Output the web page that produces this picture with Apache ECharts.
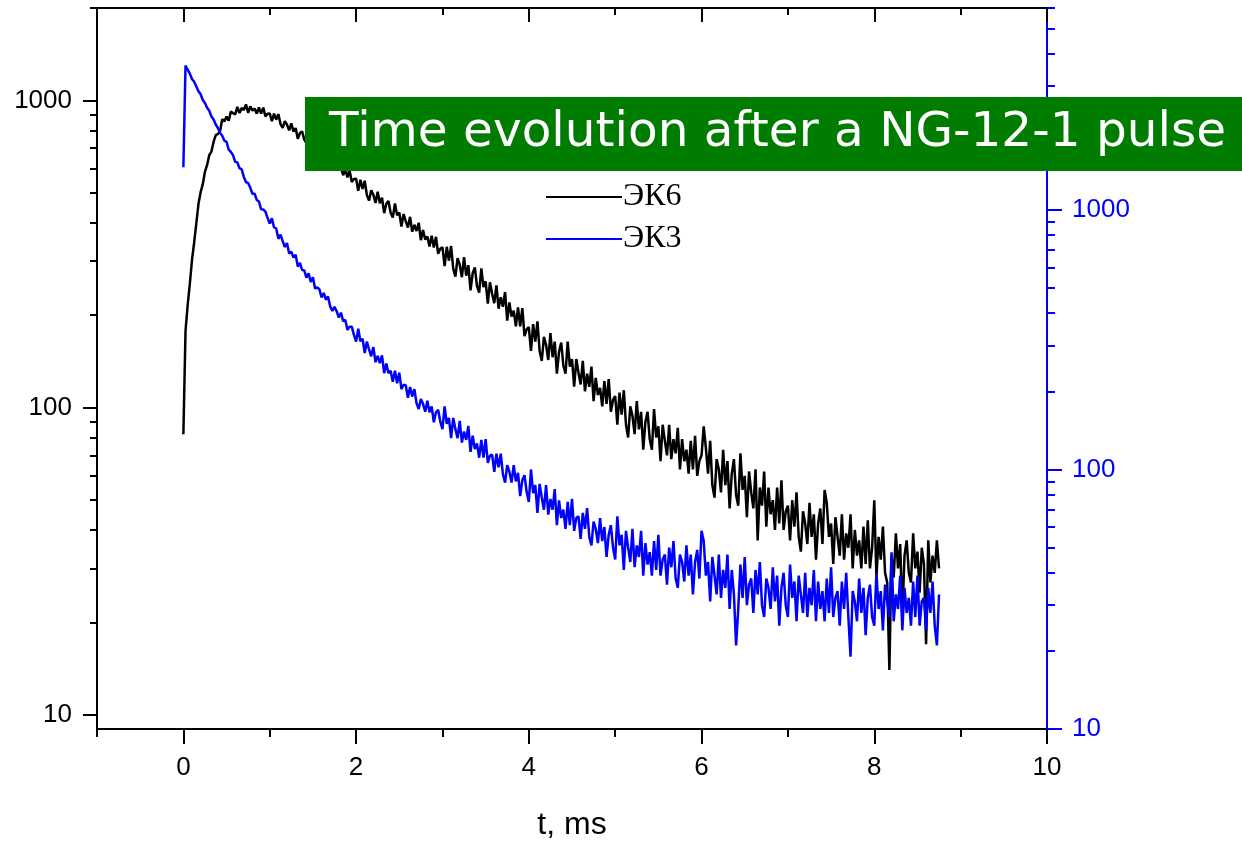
<!DOCTYPE html>
<html>
<head>
<meta charset="utf-8">
<script src="https://cdn.jsdelivr.net/npm/echarts@6/dist/echarts.min.js"></script>
<style>
html,body{margin:0;padding:0;background:#fff;}
#chart{width:1242px;height:843px;}
</style>
</head>
<body>
<div id="chart"></div>
<script>
// ---- data ----
const T_START = 0;        // ms, time of first sample
const T_STEP = 0.025;     // ms between samples
const SERIES_NAMES = ['ЭК6', 'ЭК3'];
const TITLE_TEXT = 'Time evolution after a NG-12-1 pulse';
const X_NAME = 't, ms';

// ЭК6 (black, left axis)
const ek6 = [
82,178,216,253,303,345,398,461,503,534,586,617,664,682,733,772,
778,794,869,855,887,859,920,910,901,953,910,945,931,971,912,957,927,941,906,949,906,948,888,905,
908,856,906,866,903,838,814,856,834,799,843,792,813,751,784,793,746,726,775,726,
734,681,721,691,666,699,646,663,639,663,604,631,599,604,571,600,562,592,543,555,
556,508,552,515,548,492,472,510,493,464,505,463,483,430,461,471,431,416,462,423,
432,389,427,405,386,418,374,394,376,400,351,379,353,361,335,363,332,360,317,329,
333,289,334,301,336,283,267,307,292,266,309,269,291,241,274,286,249,237,284,247,
258,218,256,235,219,250,210,229,213,238,192,220,198,207,184,212,184,211,171,180,
183,153,187,164,191,153,142,170,160,143,175,146,164,129,152,163,137,129,164,136,
144,117,144,130,119,142,113,129,117,136,105,125,110,116,101,122,103,124,97,106,
109,88,112,95,114,88,80,101,94,82,105,85,97,73,90,97,79,73,99,80,
87,67,88,78,70,88,68,79,71,86,63,79,67,73,61,78,63,81,60,67,
70,87,74,61,78,56,51,68,63,53,73,56,67,47,61,68,52,48,71,54,
60,44,62,53,47,63,37,55,48,62,41,55,45,50,40,55,42,58,40,46,
48,37,50,41,53,38,34,46,42,36,49,38,45,32,42,47,36,54,49,38,
42,31,44,38,33,45,32,39,35,45,30,40,33,37,30,41,31,43,30,35,
50,28,38,32,41,29,27,14,33,28,39,30,36,21,33,37,29,27,39,30,
34,25,35,31,17,37,27,33,29,37,30
];

// ЭК3 (blue, right axis)
const ek3 = [
1460,3600,3470,3353,3194,3118,2990,2866,2790,2654,2583,2475,2410,2289,2231,2134,2069,1978,1932,1848,
1831,1706,1673,1626,1532,1526,1448,1434,1340,1278,1271,1217,1154,1155,1092,1078,1006,1005,986,932,
886,929,856,849,774,804,758,720,745,680,690,656,672,605,625,587,585,548,570,528,
550,498,503,495,460,479,451,464,425,408,423,407,385,402,373,377,345,355,355,330,
311,349,312,319,281,311,290,273,296,259,274,257,275,235,256,235,240,218,240,215,
236,204,212,211,189,208,191,204,180,171,187,179,167,184,166,175,152,166,170,153,
143,175,150,158,132,158,143,132,154,127,140,130,147,117,135,120,126,111,130,111,
131,106,113,114,98,115,102,115,96,89,104,98,89,104,90,97,79,91,95,82,
75,100,81,87,68,88,78,70,87,67,77,70,84,61,76,65,70,59,75,61,
77,58,65,66,54,68,59,71,55,51,63,59,52,65,53,60,46,56,61,50,
45,66,51,56,41,58,50,44,59,42,51,46,58,39,52,43,48,39,53,41,
56,39,45,47,36,50,42,53,38,35,47,44,37,51,39,47,33,44,49,38,
58,53,39,44,31,46,39,33,47,32,41,35,47,29,41,33,21,29,43,32,
46,30,36,38,28,41,33,44,30,27,38,35,29,42,31,39,25,35,40,30,
27,43,32,37,26,39,33,28,40,27,35,30,41,26,37,29,34,26,38,28,
42,27,32,34,25,37,29,40,27,19,34,31,26,38,28,35,23,32,36,27,
25,40,29,34,24,36,31,27,48,26,33,29,39,24,35,28,32,25,37,27,
39,25,31,32,24,35,28,37,25,21,33
];

// tick values
const X_MAJOR = [0, 2, 4, 6, 8, 10];
const X_MINOR = [-1, 1, 3, 5, 7, 9];
const Y_MAJOR = [10, 100, 1000];
const Y_LEFT_MINOR = [20,30,40,50,60,70,80,90,200,300,400,500,600,700,800,900,2000];
const Y_RIGHT_MINOR = [20,30,40,50,60,70,80,90,200,300,400,500,600,700,800,900,2000,3000,4000,5000,6000];

// ---- build ----
function pairs(vals) {
  return vals.map((v, i) => [Math.round((T_START + i * T_STEP) * 1000) / 1000, v]);
}
const FONT = 'Liberation Sans';
const chart = echarts.init(document.getElementById('chart'), null, {renderer: 'canvas'});
const plain = v => String(v);

function xAx(pos, ticks, len, inside, showLine, labels) {
  return {
    type: 'value', min: -1, max: 10, position: pos,
    axisLine: {show: showLine, onZero: false, lineStyle: {color: '#000', width: 2}},
    axisTick: {show: true, customValues: ticks, length: len, inside: inside, lineStyle: {color: '#000', width: 2}},
    axisLabel: labels ? {customValues: ticks, formatter: plain, fontFamily: FONT, fontSize: 26, color: '#000', margin: 26} : {show: false},
    splitLine: {show: false}
  };
}
function yAx(pos, min, max, ticks, len, color, showLine, labels) {
  return {
    type: 'log', logBase: 10, min: min, max: max, position: pos,
    axisLine: {show: showLine, onZero: false, lineStyle: {color: color, width: 2}},
    axisTick: {show: true, customValues: ticks, length: len, inside: false, lineStyle: {color: color, width: 2}},
    axisLabel: labels ? {customValues: ticks, formatter: plain, fontFamily: FONT, fontSize: 26, color: color, margin: 25} : {show: false},
    splitLine: {show: false}
  };
}

const xMain = xAx('bottom', X_MAJOR, 15, false, true, true);
xMain.name = X_NAME;
xMain.nameLocation = 'middle';
xMain.nameGap = 80;
xMain.nameTextStyle = {fontFamily: FONT, fontSize: 32, color: '#000'};

const option = {
  animation: false,
  backgroundColor: '#fff',
  title: {
    text: TITLE_TEXT,
    left: 305, top: 97,
    backgroundColor: '#007c00',
    padding: [12, 60, 13, 24],
    textStyle: {color: '#fff', fontFamily: 'DejaVu Sans', fontSize: 48.5, fontWeight: 'normal'},
    z: 20
  },
  legend: {
    orient: 'vertical', left: 541, top: 176,
    icon: 'rect',
    itemWidth: 76, itemHeight: 2, itemGap: 10,
    textStyle: {fontFamily: 'Liberation Serif', fontSize: 32, color: '#000', padding: [0, 0, 0, -4]},
    data: SERIES_NAMES
  },
  grid: {left: 97, right: 195, top: 8, bottom: 114, containLabel: false, outerBoundsMode: 'none'},
  xAxis: [
    xMain,
    xAx('bottom', X_MINOR, 8, false, false, false),
    xAx('top', X_MAJOR, 14, true, true, false),
    xAx('top', X_MINOR, 7, true, false, false)
  ],
  yAxis: [
    yAx('left', 9, 2000, Y_MAJOR, 14, '#000', true, true),
    yAx('left', 9, 2000, Y_LEFT_MINOR, 7, '#000', false, false),
    yAx('right', 10, 6000, Y_MAJOR, 15, '#0000ff', true, true),
    yAx('right', 10, 6000, Y_RIGHT_MINOR, 8, '#0000ff', false, false)
  ],
  series: [
    {name: SERIES_NAMES[0], type: 'line', xAxisIndex: 0, yAxisIndex: 0, data: pairs(ek6),
     symbol: 'none', showSymbol: false, lineStyle: {color: '#000', width: 2.5}, itemStyle: {color: '#000'}, z: 2},
    {name: SERIES_NAMES[1], type: 'line', xAxisIndex: 0, yAxisIndex: 2, data: pairs(ek3),
     symbol: 'none', showSymbol: false, lineStyle: {color: '#0000ff', width: 2.5}, itemStyle: {color: '#0000ff'}, z: 3}
  ]
};
chart.setOption(option);
</script>
</body>
</html>
